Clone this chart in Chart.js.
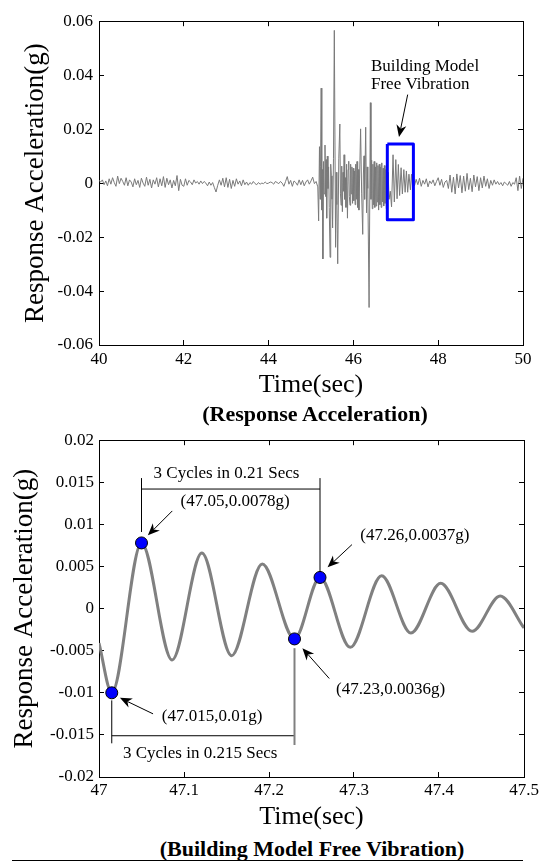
<!DOCTYPE html>
<html>
<head>
<meta charset="utf-8">
<script src="https://cdn.jsdelivr.net/npm/chart.js@4.4.1/dist/chart.umd.min.js"></script>
<style>
  html, body { margin: 0; padding: 0; background: #fff; }
  body { width: 547px; height: 866px; position: relative; overflow: hidden; font-family: 'Liberation Serif', 'Times New Roman', serif; }
  .wrap { position: absolute; left: 0; width: 547px; }
  #top-wrap { top: 0; height: 402px; }
  #bottom-wrap { top: 420px; height: 415px; }
  .caption { position: absolute; font-weight: bold; font-size: 22px; line-height: 22px; white-space: nowrap; transform: translate(-50%, -50%); color: #000; }
  #rule { position: absolute; left: 12px; top: 860px; width: 511px; border-top: 1px solid #000; }
</style>
</head>
<body>
<div class="wrap" id="top-wrap"><canvas id="response-chart" width="547" height="402"></canvas></div>
<div class="wrap" id="bottom-wrap"><canvas id="vibration-chart" width="547" height="415"></canvas></div>
<div class="caption" style="left:315px; top:414px;">(Response Acceleration)</div>
<div class="caption" style="left:312px; top:849px;">(Building Model Free Vibration)</div>
<div id="rule"></div>
<script>
// ---- top chart: response acceleration (g) vs time (sec) ----
const preStart = 40.0;
const postStart = 47.44;
const noiseStep = 0.04;

// ambient record before the burst, one value every 0.04 s from 40.00 s
const preNoise = [
    0.0010, 0.0004, 0.0012, -0.0006, 0.0008, -0.0010, 0.0016, -0.0004, 0.0020, 0.0002,
    -0.0012, 0.0026, -0.0002, 0.0018, 0.0006, -0.0008, 0.0020, -0.0010, 0.0012, 0.0004,
    -0.0014, 0.0016, -0.0006, 0.0010, -0.0016, 0.0018, 0.0000, -0.0012, 0.0022, -0.0008,
    0.0014, -0.0018, 0.0012, -0.0004, 0.0020, -0.0014, 0.0016, -0.0010, 0.0024, -0.0016,
    0.0018, -0.0006, 0.0012, -0.0018, 0.0010, -0.0010, 0.0028, -0.0028, 0.0014, -0.0008,
    -0.0012, 0.0016, -0.0008, 0.0010, 0.0004, -0.0006, 0.0012, 0.0000, 0.0006, -0.0004,
    0.0008, -0.0002, 0.0006, 0.0000, -0.0010, 0.0004, -0.0008, 0.0002, -0.0016, -0.0033,
    -0.0008, 0.0012, -0.0008, 0.0018, -0.0014, 0.0020, -0.0016, 0.0014, -0.0020, 0.0010,
    -0.0012, 0.0016, -0.0004, 0.0008, -0.0010, 0.0012, -0.0006, 0.0004, -0.0008, 0.0002,
    -0.0004, 0.0006, -0.0002, -0.0006, 0.0002, -0.0004, 0.0000, -0.0002, 0.0004, -0.0002,
    0.0000, 0.0004, 0.0002, -0.0004, 0.0006, 0.0002, -0.0002, 0.0006, 0.0000, -0.0012,
    0.0006, 0.0024, -0.0004, 0.0010, -0.0012, 0.0008, 0.0002, -0.0008, 0.0012, -0.0006,
    0.0010, -0.0010, 0.0004, 0.0012, -0.0004, 0.0008, 0.0022, -0.0002, 0.0006, -0.0014,
];

// strong shaking and the free vibration that follows: [time, value]
const burstSamples = [
    [45.18, -0.0140], [45.20, 0.0135], [45.215, -0.0060], [45.225, 0.0060], [45.24, 0.0352],
    [45.255, -0.0100], [45.265, 0.0050], [45.28, -0.0281], [45.295, 0.0080], [45.31, -0.0040],
    [45.33, 0.0141], [45.345, -0.0050], [45.355, 0.0087], [45.37, -0.0130], [45.385, 0.0100],
    [45.40, -0.0020], [45.415, 0.0060], [45.43, -0.0090], [45.45, -0.0275], [45.465, 0.0070],
    [45.48, 0.0027], [45.495, -0.0060], [45.51, -0.0166], [45.53, 0.0090], [45.55, 0.0566],
    [45.58, -0.0238], [45.595, 0.0040], [45.61, -0.0080], [45.63, -0.0299], [45.655, 0.0090],
    [45.68, 0.0219], [45.695, -0.0040], [45.71, -0.0082], [45.725, 0.0063], [45.74, -0.0106],
    [45.755, 0.0040], [45.77, -0.0030], [45.78, 0.0105], [45.795, -0.0060], [45.81, 0.0020],
    [45.825, -0.0090], [45.84, 0.0070], [45.86, -0.0130], [45.875, 0.0050], [45.89, 0.0081],
    [45.905, -0.0050], [45.92, -0.0082], [45.935, 0.0070], [45.95, -0.0040], [45.965, 0.0060],
    [45.98, -0.0075], [45.995, 0.0055], [46.01, -0.0065], [46.025, 0.0045], [46.04, -0.0080],
    [46.055, 0.0070], [46.07, -0.0060], [46.085, 0.0080], [46.10, -0.0090], [46.115, 0.0050],
    [46.13, -0.0100], [46.17, 0.0201], [46.195, -0.0040], [46.22, -0.0190], [46.235, 0.0030],
    [46.25, 0.0101], [46.265, -0.0060], [46.29, 0.0207], [46.31, -0.0110], [46.325, 0.0060],
    [46.34, -0.0020], [46.37, -0.0461], [46.40, 0.0298], [46.415, -0.0060], [46.43, 0.0085],
    [46.445, -0.0095], [46.46, 0.0070], [46.475, -0.0080], [46.49, 0.0080], [46.505, -0.0090],
    [46.52, 0.0060], [46.535, -0.0085], [46.55, 0.0075], [46.565, -0.0070], [46.58, 0.0065],
    [46.595, -0.0100], [46.61, 0.0070], [46.625, -0.0080], [46.64, 0.0060], [46.655, -0.0090],
    [46.67, 0.0075], [46.685, -0.0070], [46.70, 0.0055], [46.715, -0.0085], [46.73, 0.0065],
    [46.745, -0.0075], [46.76, 0.0050], [46.775, -0.0095], [46.79, 0.0060], [46.805, -0.0060],
    [46.82, 0.0040], [46.84, -0.0060], [46.87, -0.0030], [46.90, -0.0088], [46.935, 0.0105],
    [46.965, -0.0070], [47.00, 0.0087], [47.03, -0.0058], [47.06, 0.0069], [47.09, -0.0046],
    [47.125, 0.0057], [47.155, -0.0040], [47.19, 0.0050], [47.22, -0.0034], [47.25, 0.0045],
    [47.28, -0.0034], [47.31, 0.0033], [47.345, -0.0025], [47.37, 0.0033], [47.40, -0.0020],
    [47.42, 0.0010],
];

// ambient record after the burst, one value every 0.04 s from 47.44 s
const postNoise = [
    -0.0010, 0.0014, -0.0006, 0.0018, -0.0012, 0.0010, -0.0004, 0.0016, -0.0014, 0.0008,
    -0.0002, 0.0012, -0.0010, 0.0006, 0.0020, -0.0008, 0.0014, -0.0016, 0.0004, 0.0010,
    -0.0020, 0.0030, -0.0034, 0.0022, -0.0040, 0.0034, -0.0018, 0.0028, -0.0036, 0.0026,
    -0.0030, 0.0036, -0.0024, 0.0018, -0.0032, 0.0030, -0.0014, 0.0024, -0.0028, 0.0020,
    -0.0018, 0.0026, -0.0012, 0.0016, -0.0020, 0.0010, -0.0008, 0.0012, -0.0004, 0.0006,
    -0.0006, 0.0002, -0.0010, 0.0004, -0.0002, -0.0008, 0.0006, -0.0012, 0.0002, -0.0004,
    0.0020, -0.0028, 0.0026, -0.0020, 0.0018,
];

// blue box around the free vibration window
const boxTimes = [46.80, 47.415, 47.415, 46.80, 46.80];
const boxValues = [0.0145, 0.0145, -0.0136, -0.0136, 0.0145];

// ---- bottom chart: zoom on the free vibration ----
const vibTimes = [
    47.0, 47.015, 47.05, 47.086, 47.121, 47.156, 47.192, 47.23,
    47.26, 47.2956, 47.3325, 47.367, 47.402, 47.439, 47.472, 47.5,
];
const vibValues = [
    -0.0041, -0.0100, 0.0078, -0.0061, 0.0066, -0.0056, 0.0053, -0.0036,
    0.0037, -0.0046, 0.0039, -0.0029, 0.0030, -0.0027, 0.0015, -0.0023,
];
const markTimes = [47.015, 47.05, 47.23, 47.26];
const markValues = [-0.0100, 0.0078, -0.0036, 0.0037];

// annotation anchors in data units
const topLabels = [
    { text: 'Building Model', x: 46.415, y: 0.0433 },
    { text: 'Free Vibration', x: 46.415, y: 0.0364 },
];
const topArrows = [
    [[47.28, 0.0328], [47.075, 0.0171]],
];

const bottomLines = [
    { pts: [[47.05, 0.0155], [47.05, 0.0091]], color: '#000', width: 1 },
    { pts: [[47.05, 0.0142], [47.26, 0.0142]], color: '#000', width: 1 },
    { pts: [[47.26, 0.0155], [47.26, 0.0042]], color: '#000', width: 1 },
    { pts: [[47.015, -0.0109], [47.015, -0.0160]], color: '#000', width: 1 },
    { pts: [[47.015, -0.0151], [47.23, -0.0151]], color: '#000', width: 1 },
    { pts: [[47.23, -0.0047], [47.23, -0.0162]], color: '#808080', width: 2 },
];
const bottomLabels = [
    { text: '3 Cycles in 0.21 Secs', x: 47.15, y: 0.0160, align: 'center' },
    { text: '3 Cycles in 0.215 Secs', x: 47.119, y: -0.0172, align: 'center' },
    { text: '(47.05,0.0078g)', x: 47.160, y: 0.0127, align: 'center' },
    { text: '(47.26,0.0037g)', x: 47.3715, y: 0.0087, align: 'center' },
    { text: '(47.23,0.0036g)', x: 47.343, y: -0.0096, align: 'center' },
    { text: '(47.015,0.01g)', x: 47.133, y: -0.0128, align: 'center' },
];
const bottomArrows = [
    [[47.0862, 0.0116], [47.0575, 0.0087]],
    [[47.2976, 0.0076], [47.2689, 0.0049]],
    [[47.2709, -0.0083], [47.2393, -0.0047]],
    [[47.0636, -0.0125], [47.0246, -0.0106]],
];

const FONT = "'Liberation Serif', 'Times New Roman', serif";

function toPoints(xs, ys) {
    return xs.map((x, i) => ({ x, y: ys[i] }));
}

function sampled(start, values) {
    return values.map((v, i) => ({ x: +(start + i * noiseStep).toFixed(3), y: v }));
}

function tickText(v) {
    return String(Number(Number(v).toFixed(4)));
}

function drawArrow(ctx, x0, y0, x1, y1) {
    const ang = Math.atan2(y1 - y0, x1 - x0);
    const len = 12;
    const half = 5;
    ctx.beginPath();
    ctx.moveTo(x0, y0);
    ctx.lineTo(x1 - Math.cos(ang) * len * 0.7, y1 - Math.sin(ang) * len * 0.7);
    ctx.stroke();
    ctx.save();
    ctx.translate(x1, y1);
    ctx.rotate(ang);
    ctx.beginPath();
    ctx.moveTo(0, 0);
    ctx.lineTo(-len, -half);
    ctx.lineTo(-len * 0.7, 0);
    ctx.lineTo(-len, half);
    ctx.closePath();
    ctx.fill();
    ctx.restore();
}

function notesPlugin(lines, labels, arrows) {
    return {
        id: 'notes',
        beforeDatasetsDraw(chart) {
            const { ctx, scales } = chart;
            ctx.save();
            lines.forEach((l) => {
                ctx.strokeStyle = l.color;
                ctx.lineWidth = l.width;
                ctx.beginPath();
                l.pts.forEach(([x, y], i) => {
                    const px = scales.x.getPixelForValue(x);
                    const py = scales.y.getPixelForValue(y);
                    if (i === 0) ctx.moveTo(px, py); else ctx.lineTo(px, py);
                });
                ctx.stroke();
            });
            ctx.restore();
        },
        afterDatasetsDraw(chart) {
            const { ctx, scales } = chart;
            ctx.save();
            ctx.strokeStyle = '#000';
            ctx.fillStyle = '#000';
            ctx.lineWidth = 1;
            arrows.forEach(([from, to]) => {
                drawArrow(ctx,
                    scales.x.getPixelForValue(from[0]), scales.y.getPixelForValue(from[1]),
                    scales.x.getPixelForValue(to[0]), scales.y.getPixelForValue(to[1]));
            });
            ctx.font = `17px ${FONT}`;
            ctx.textBaseline = 'middle';
            labels.forEach((l) => {
                ctx.textAlign = l.align || 'left';
                ctx.fillText(l.text, scales.x.getPixelForValue(l.x), scales.y.getPixelForValue(l.y));
            });
            ctx.restore();
        },
    };
}

function buildScales(o) {
    const grid = { display: true, drawOnChartArea: false, drawTicks: true, tickLength: -5, color: '#000', lineWidth: 1 };
    const border = { display: true, color: '#000', width: 1 };
    const tickFont = { family: FONT, size: 17 };
    return {
        x: {
            type: 'linear', position: 'bottom', min: o.xMin, max: o.xMax,
            grid, border,
            ticks: { stepSize: o.xStep, color: '#000', font: tickFont, padding: o.xPad, maxRotation: 0, autoSkip: false, callback: tickText },
            title: { display: true, text: 'Time(sec)', color: '#000', font: { family: FONT, size: 26 }, padding: { top: 0, bottom: o.xTitlePad } },
            afterFit: (s) => { s.height = o.xHeight; },
        },
        xTop: {
            type: 'linear', position: 'top', display: true, min: o.xMin, max: o.xMax,
            grid, border,
            ticks: { stepSize: o.xStep, display: false },
            afterFit: (s) => { s.height = 0; },
        },
        y: {
            type: 'linear', position: 'left', min: o.yMin, max: o.yMax,
            grid, border,
            ticks: { stepSize: o.yStep, color: '#000', font: tickFont, padding: o.yPad, autoSkip: false, callback: tickText },
            title: { display: true, text: 'Response Acceleration(g)', color: '#000', font: { family: FONT, size: 27 }, padding: { top: o.yTitlePad, bottom: 0 } },
            afterFit: (s) => { s.width = 99; },
        },
        yRight: {
            type: 'linear', position: 'right', display: true, min: o.yMin, max: o.yMax,
            grid, border,
            ticks: { stepSize: o.yStep, display: false },
            afterFit: (s) => { s.width = 0; },
        },
    };
}

const baseOptions = {
    responsive: false,
    animation: false,
    devicePixelRatio: 1,
    plugins: { legend: { display: false }, tooltip: { enabled: false } },
};

const responsePoints = [
    ...sampled(preStart, preNoise),
    ...burstSamples.map(([x, y]) => ({ x, y })),
    ...sampled(postStart, postNoise),
];

new Chart(document.getElementById('response-chart'), {
    type: 'line',
    data: {
        datasets: [
            {
                data: responsePoints,
                borderColor: '#7a7a7a',
                borderWidth: 1,
                pointRadius: 0,
                tension: 0,
                order: 2,
            },
            {
                data: toPoints(boxTimes, boxValues),
                borderColor: '#0000ff',
                borderWidth: 3,
                borderJoinStyle: 'round',
                pointRadius: 0,
                tension: 0,
                order: 1,
            },
        ],
    },
    options: {
        ...baseOptions,
        layout: { padding: { top: 13, right: 24, bottom: 0, left: 0 } },
        scales: buildScales({
            xMin: 40, xMax: 50, xStep: 2, xPad: 9, xHeight: 57, xTitlePad: 1.4,
            yMin: -0.06, yMax: 0.06, yStep: 0.02, yPad: 11, yTitlePad: 20,
        }),
    },
    plugins: [notesPlugin([], topLabels, topArrows)],
});

new Chart(document.getElementById('vibration-chart'), {
    type: 'line',
    data: {
        datasets: [
            {
                data: toPoints(vibTimes, vibValues),
                borderColor: '#808080',
                borderWidth: 3,
                pointRadius: 0,
                cubicInterpolationMode: 'monotone',
                order: 2,
            },
            {
                data: toPoints(markTimes, markValues),
                showLine: false,
                pointRadius: 6,
                pointBackgroundColor: '#0000ff',
                pointBorderColor: '#000',
                pointBorderWidth: 1,
                order: 1,
            },
        ],
    },
    options: {
        ...baseOptions,
        layout: { padding: { top: 17, right: 23, bottom: 0, left: 0 } },
        scales: buildScales({
            xMin: 47, xMax: 47.5, xStep: 0.1, xPad: 8, xHeight: 58, xTitlePad: 2.4,
            yMin: -0.02, yMax: 0.02, yStep: 0.005, yPad: 10, yTitlePad: 9,
        }),
    },
    plugins: [notesPlugin(bottomLines, bottomLabels, bottomArrows)],
});
</script>
</body>
</html>
